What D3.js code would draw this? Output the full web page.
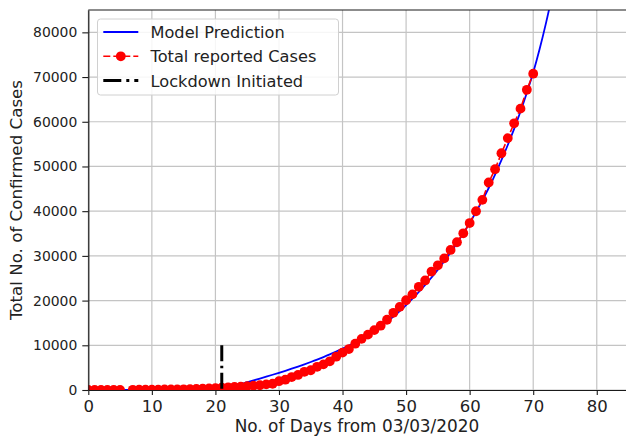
<!DOCTYPE html>
<html>
<head>
<meta charset="utf-8">
<script src="https://cdn.jsdelivr.net/npm/d3@7/dist/d3.min.js"></script>
<style>
  html, body { margin: 0; padding: 0; background: #fff; }
  svg { display: block; font-family: "DejaVu Sans", sans-serif; }
</style>
</head>
<body>
<svg id="chart" width="626" height="439"></svg>
<script>
// Days counted from 03/03/2020 for the reported series (day 6 has no report)
const reportedDays = [0,1,2,3,4,5,6,7,8,9,10,11,12,13,14,15,16,17,18,19,20,
  21,22,23,24,25,26,27,28,29,30,31,32,33,34,35,36,37,38,39,40,
  41,42,43,44,45,46,47,48,49,50,51,52,53,54,55,56,57,58,59,60,
  61,62,63,64,65,66,67,68,69,70];
const reportedCases = [5,28,29,30,31,34,null,50,60,73,75,83,107,114,137,151,173,223,283,360,415,
  519,606,694,724,873,979,1071,1251,1397,1965,2301,2902,3374,4067,4421,5194,5734,6412,7447,8356,
  9152,10363,11439,12380,13387,14378,15712,17265,18601,20080,21393,23077,24506,26496,27892,29435,31332,33050,35043,37336,
  39980,42533,46433,49391,52952,56342,59662,62939,67152,70756];

// Fitted model curve, sampled once per day
const modelDays = [0,1,2,3,4,5,6,7,8,9,10,11,12,13,14,15,16,17,18,19,20,
  21,22,23,24,25,26,27,28,29,30,31,32,33,34,35,36,37,38,39,40,
  41,42,43,44,45,46,47,48,49,50,51,52,53,54,55,56,57,58,59,60,
  61,62,63,64,65,66,67,68,69,70,71,72,73];
const modelCases = [0,0,0,0,0,0,0,0,0,0,0,0,0,0,0,0,20,60,120,200,320,
  480,700,1000,1350,1750,2150,2560,2980,3410,3850,4300,4760,5240,5740,6260,6800,7370,7970,8600,9250,
  9920,10640,11420,12270,13190,14180,15250,16410,17660,19000,20420,21920,23500,25170,26930,28790,30760,32840,35040,37370,
  39830,42430,45180,48200,51400,54800,58400,62300,66500,71000,76200,82000,88400];

// Lockdown marker
const lockdownDay = 21;
const lockdownSpan = [0, 10000];

// Axis ticks and labels
const xTicks = [0,10,20,30,40,50,60,70,80];
const yTicks = [0,10000,20000,30000,40000,50000,60000,70000,80000];
const xDomain = [0, 84.6];
const yDomain = [0, 85000];
const xTitle = "No. of Days from 03/03/2020";
const yTitle = "Total No. of Confirmed Cases";
const legendLabels = ["Model Prediction", "Total reported Cases", "Lockdown Initiated"];

const svg = d3.select("#chart");
const plot = { left: 88.3, right: 626, top: 10, bottom: 390 };

const x = d3.scaleLinear().domain(xDomain).range([plot.left, plot.right]);
const y = d3.scaleLinear().domain(yDomain).range([plot.bottom, plot.top]);

svg.append("defs").append("clipPath").attr("id", "plotClip")
  .append("rect")
  .attr("x", plot.left).attr("y", plot.top)
  .attr("width", plot.right - plot.left).attr("height", plot.bottom - plot.top);

// Grid
const grid = svg.append("g").attr("class", "grid");
grid.selectAll("line.vx").data(xTicks).join("line")
  .attr("x1", d => x(d)).attr("x2", d => x(d))
  .attr("y1", plot.top).attr("y2", plot.bottom)
  .attr("stroke", "#c4c4c4").attr("stroke-width", 1.2);
grid.selectAll("line.hy").data(yTicks).join("line")
  .attr("x1", plot.left).attr("x2", plot.right)
  .attr("y1", d => y(d)).attr("y2", d => y(d))
  .attr("stroke", "#c4c4c4").attr("stroke-width", 1.2);

const marks = svg.append("g").attr("clip-path", "url(#plotClip)");

// Model prediction
const modelData = modelDays.map((d, i) => ({ day: d, value: modelCases[i] }));
marks.append("path")
  .datum(modelData)
  .attr("fill", "none")
  .attr("stroke", "#0000ff")
  .attr("stroke-width", 1.8)
  .attr("d", d3.line().x(d => x(d.day)).y(d => y(d.value)).curve(d3.curveMonotoneX));

// Reported cases: dashed line with round markers
const reportedData = reportedDays.map((d, i) => ({ day: d, value: reportedCases[i] }));
marks.append("path")
  .datum(reportedData)
  .attr("fill", "none")
  .attr("stroke", "#ff0000")
  .attr("stroke-width", 1.6)
  .attr("stroke-dasharray", "7,3")
  .attr("d", d3.line().defined(d => d.value !== null).x(d => x(d.day)).y(d => y(d.value)));
marks.selectAll("circle.pt").data(reportedData.filter(d => d.value !== null)).join("circle")
  .attr("class", "pt")
  .attr("cx", d => x(d.day)).attr("cy", d => y(d.value))
  .attr("r", 4.9)
  .attr("fill", "#ff0000");

// Lockdown line
marks.append("line")
  .attr("x1", x(lockdownDay)).attr("x2", x(lockdownDay))
  .attr("y1", y(lockdownSpan[1])).attr("y2", y(lockdownSpan[0]))
  .attr("stroke", "#000")
  .attr("stroke-width", 3)
  .attr("stroke-dasharray", "16,4.5,2.5,4.5");

// Axes
const xAxis = svg.append("g")
  .attr("transform", `translate(0,${plot.bottom})`)
  .call(d3.axisBottom(x).tickValues(xTicks).tickSize(5).tickSizeOuter(0).tickPadding(5));
const yAxis = svg.append("g")
  .attr("transform", `translate(${plot.left},0)`)
  .call(d3.axisLeft(y).tickValues(yTicks).tickSize(6).tickSizeOuter(0).tickPadding(5)
    .tickFormat(d3.format("d")));

[xAxis, yAxis].forEach(ax => {
  ax.select(".domain").attr("stroke", "#1a1a1a").attr("stroke-width", 1.2);
  ax.selectAll(".tick line").attr("stroke", "#1a1a1a").attr("stroke-width", 1.1);
  ax.selectAll(".tick text").attr("fill", "#222").attr("font-family", "DejaVu Sans");
});
xAxis.selectAll(".tick text").attr("font-size", "16.5px");
yAxis.selectAll(".tick text").attr("font-size", "13.9px");

// Top spine
svg.append("line")
  .attr("x1", plot.left).attr("x2", plot.right)
  .attr("y1", plot.top).attr("y2", plot.top)
  .attr("stroke", "#1a1a1a").attr("stroke-width", 1.2);

// Axis titles
svg.append("text")
  .attr("x", 357).attr("y", 432)
  .attr("text-anchor", "middle")
  .attr("font-size", "16.9px").attr("fill", "#222")
  .text(xTitle);
svg.append("text")
  .attr("transform", `translate(22,${(plot.top + plot.bottom) / 2}) rotate(-90)`)
  .attr("text-anchor", "middle")
  .attr("font-size", "16.7px").attr("fill", "#222")
  .text(yTitle);

// Legend
const legend = svg.append("g");
legend.append("rect")
  .attr("x", 97.5).attr("y", 19).attr("width", 241).attr("height", 76)
  .attr("rx", 3)
  .attr("fill", "#fff").attr("fill-opacity", 0.85)
  .attr("stroke", "#d0d0d0").attr("stroke-width", 1);
const rowY = [32, 56.3, 80.5];
const hx0 = 103.3, hx1 = 138.3;
legend.append("line").attr("x1", hx0).attr("x2", hx1).attr("y1", rowY[0]).attr("y2", rowY[0])
  .attr("stroke", "#0000ff").attr("stroke-width", 1.8);
legend.append("line").attr("x1", hx0).attr("x2", hx1).attr("y1", rowY[1]).attr("y2", rowY[1])
  .attr("stroke", "#ff0000").attr("stroke-width", 1.6).attr("stroke-dasharray", "7,3");
legend.append("circle").attr("cx", (hx0 + hx1) / 2).attr("cy", rowY[1]).attr("r", 4.9)
  .attr("fill", "#ff0000");
legend.append("line").attr("x1", hx0).attr("x2", hx1).attr("y1", rowY[2]).attr("y2", rowY[2])
  .attr("stroke", "#000").attr("stroke-width", 3).attr("stroke-dasharray", "18,5,3,5");
legend.selectAll("text.lbl").data(legendLabels).join("text")
  .attr("class", "lbl")
  .attr("x", 150.5).attr("y", (d, i) => rowY[i] + 6)
  .attr("font-size", "16.2px").attr("fill", "#222")
  .text(d => d);
</script>
</body>
</html>
